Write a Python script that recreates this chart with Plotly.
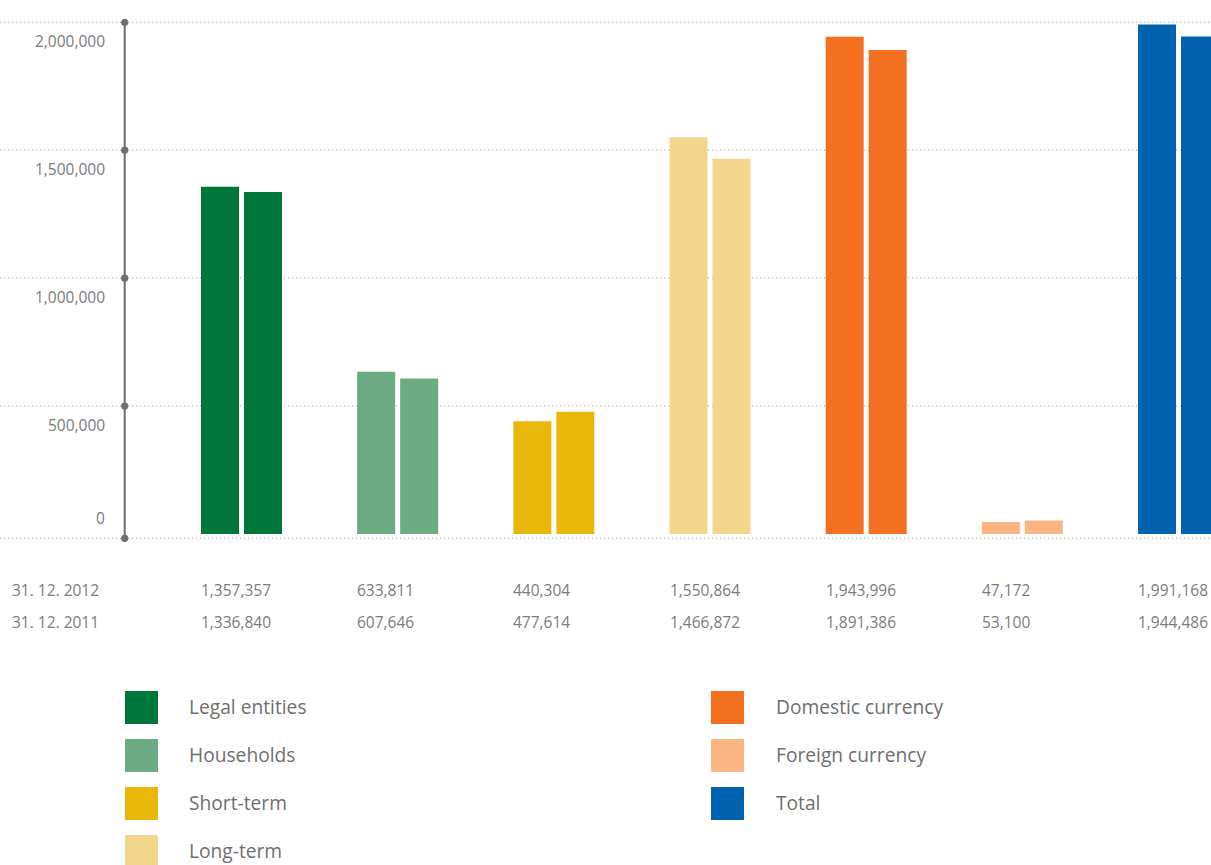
import plotly.graph_objects as go

# ---------------- data ----------------
categories = ["Legal entities", "Households", "Short-term", "Long-term",
              "Domestic currency", "Foreign currency", "Total"]
values_2012 = [1357357, 633811, 440304, 1550864, 1943996, 47172, 1991168]
values_2011 = [1336840, 607646, 477614, 1466872, 1891386, 53100, 1944486]
series_labels = ["31. 12. 2012", "31. 12. 2011"]
colors = ["#00773A", "#6CAB84", "#E8B70A", "#F2D68C", "#F37021", "#F9B584", "#0062AE"]
y_tickvals = [0, 500000, 1000000, 1500000, 2000000]
y_ticktext = ["0", "500,000", "1,000,000", "1,500,000", "2,000,000"]
legend_col1 = categories[:4]
legend_col2 = categories[4:]

# ---------------- layout helpers ----------------
W, H = 1211, 865
FONT = "Open Sans, Noto Sans, sans-serif"
TEXT_GREY = "#7C7C7C"
LEG_GREY = "#6E6E6E"
AXIS_GREY = "#6E6E70"
GRID_GREY = "#9A9A9A"

def py(p):  # pixel y -> paper y
    return 1 - p / H

def px(p):  # pixel x -> paper x
    return p / W

zero_px, top_px = 534.0, 22.3
k = (zero_px - top_px) / 2000000.0
y_range = [(zero_px - H) / k, zero_px / k]
pitch = 156.17
first_center = 241.5
x_range = [-first_center / pitch, (W - first_center) / pitch]

fig = go.Figure()
for vals, name in zip([values_2012, values_2011], series_labels):
    fig.add_trace(go.Bar(x=categories, y=vals, name=name,
                         marker=dict(color=colors, line=dict(width=0)),
                         showlegend=False, hoverinfo="x+y"))

shapes = []
annotations = []

# dotted grid lines
for v in y_tickvals[1:]:
    shapes.append(dict(type="line", xref="paper", yref="y", x0=0, x1=1, y0=v, y1=v,
                       line=dict(color=GRID_GREY, width=1, dash="1px,3px"), layer="below"))
# baseline (slightly below zero)
shapes.append(dict(type="line", xref="paper", yref="y", x0=0, x1=1,
                   ysizemode="pixel", yanchor=0, y0=-4.3, y1=-4.3,
                   line=dict(color=GRID_GREY, width=1, dash="1px,3px"), layer="below"))

# vertical axis line with dots
ax_x = px(124.7)
shapes.append(dict(type="line", xref="paper", yref="y", x0=ax_x, x1=ax_x,
                   y0=-4.3 / k, y1=y_tickvals[-1],
                   line=dict(color=AXIS_GREY, width=2)))
for v in y_tickvals:
    off = -4.3 if v == 0 else 0
    shapes.append(dict(type="circle", xref="paper", yref="y",
                       xsizemode="pixel", xanchor=ax_x, x0=-3.6, x1=3.6,
                       ysizemode="pixel", yanchor=v, y0=off - 3.6, y1=off + 3.6,
                       fillcolor=AXIS_GREY, line=dict(width=0)))

# y tick labels
for v, t in zip(y_tickvals, y_ticktext):
    annotations.append(dict(xref="paper", yref="y", x=px(107), y=v, text=t,
                            xanchor="right", yanchor="middle", showarrow=False,
                            yshift=(16 if v == 0 else -19),
                            font=dict(family=FONT, size=15.5, color=TEXT_GREY)))

# data table below bars
row_y = [590, 622]
for r, (vals, lab) in enumerate(zip([values_2012, values_2011], series_labels)):
    annotations.append(dict(xref="paper", yref="paper", x=px(9.5), y=py(row_y[r]), text=lab,
                            xanchor="left", yanchor="middle", showarrow=False,
                            font=dict(family=FONT, size=15.5, color=TEXT_GREY)))
    for c, v in zip(categories, vals):
        annotations.append(dict(xref="x", yref="paper", x=c, y=py(row_y[r]), text=f"{v:,}",
                                xanchor="left", yanchor="middle", showarrow=False, xshift=-42.5,
                                font=dict(family=FONT, size=15.5, color=TEXT_GREY)))

# custom legend
def legend_column(names, sq_x, txt_x):
    for i, n in enumerate(names):
        top = 691 + 48 * i
        col = colors[categories.index(n)]
        shapes.append(dict(type="rect", xref="paper", yref="paper",
                           x0=px(sq_x), x1=px(sq_x + 33), y0=py(top + 33), y1=py(top),
                           fillcolor=col, line=dict(width=0)))
        annotations.append(dict(xref="paper", yref="paper", x=px(txt_x), y=py(top + 15.8),
                                text=n, xanchor="left", yanchor="middle", showarrow=False,
                                font=dict(family=FONT, size=19.2, color=LEG_GREY)))

legend_column(legend_col1, 125, 186.5)
legend_column(legend_col2, 711, 773.5)

fig.update_layout(
    width=W, height=H,
    margin=dict(l=0, r=0, t=0, b=0, pad=0),
    paper_bgcolor="white", plot_bgcolor="white",
    barmode="group", bargap=0.4493, bargroupgap=0.1163,
    xaxis=dict(range=x_range, showticklabels=False, showgrid=False, zeroline=False,
               showline=False, ticks="", fixedrange=True),
    yaxis=dict(range=y_range, showticklabels=False, showgrid=False, zeroline=False,
               showline=False, ticks="", fixedrange=True),
    shapes=shapes, annotations=annotations,
    showlegend=False,
)

fig.write_html("out.html", config={"displayModeBar": False},
               post_script="document.body.style.margin='0';document.body.style.overflow='hidden';")
